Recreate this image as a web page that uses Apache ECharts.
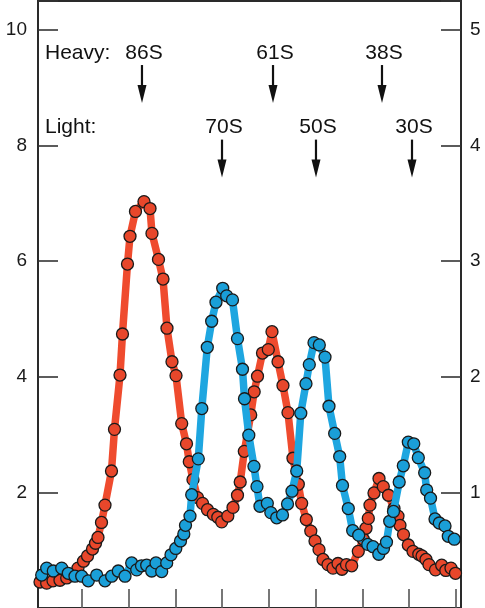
<!DOCTYPE html>
<html>
<head>
<meta charset="utf-8">
<script src="https://cdn.jsdelivr.net/npm/echarts@6/dist/echarts.min.js"></script>
<style>
html,body{margin:0;padding:0;background:#fff;}
#chart{width:485px;height:608px;}
</style>
</head>
<body>
<div id="chart"></div>
<script>
// Fraction positions and absorbance values (left axis units)
const heavyX = [1.02,2.45,3.80,5.29,6.73,8.07,9.14,10.32,11.18,12.25,12.89,13.42,14.17,14.92,16.31,16.95,18.13,18.66,19.73,20.27,21.44,23.26,24.55,24.97,26.36,27.33,28.18,29.25,30.11,31.33,32.35,32.95,33.74,34.71,35.78,36.84,38.09,39.05,39.88,41.19,42.30,43.26,43.84,44.72,46.09,46.83,47.54,48.61,49.85,50.64,51.93,52.99,54.06,55.13,56.27,56.99,57.98,58.94,59.84,60.70,61.55,62.62,63.69,64.76,65.61,66.58,67.69,69.10,70.17,70.75,71.24,71.60,72.46,73.53,74.45,75.56,76.74,77.59,78.02,78.77,79.80,80.80,82.04,82.73,83.58,84.22,85.61,86.94,87.82,88.93,89.89];
const heavyY = [0.45,0.43,0.47,0.48,0.52,0.57,0.69,0.81,0.90,1.02,1.12,1.22,1.48,1.78,2.37,3.09,4.03,4.74,5.95,6.43,6.86,7.03,6.91,6.48,6.03,5.69,4.84,4.26,4.02,3.19,2.84,2.53,2.22,1.91,1.81,1.70,1.62,1.57,1.49,1.59,1.74,1.95,2.18,2.71,3.34,3.74,4.01,4.41,4.47,4.78,4.26,3.85,3.38,2.59,2.14,1.81,1.53,1.33,1.16,1.01,0.84,0.75,0.69,0.77,0.67,0.75,0.73,0.98,1.19,1.38,1.55,1.78,1.99,2.24,2.10,1.95,1.72,1.59,1.43,1.27,1.09,0.98,0.93,0.90,0.84,0.75,0.66,0.74,0.65,0.69,0.60];

const lightX = [1.38,2.45,3.86,5.66,7.07,8.50,9.94,11.35,13.14,14.92,16.35,17.76,19.20,20.63,21.70,22.73,23.84,24.91,25.83,27.05,28.12,29.04,30.06,31.07,31.78,32.14,33.10,33.47,34.88,35.63,36.80,37.74,38.66,40.10,40.95,42.19,43.26,44.33,44.76,45.68,46.79,47.43,48.07,49.64,50.39,51.65,52.89,53.96,54.92,55.93,56.80,57.91,58.62,59.63,60.76,61.98,62.83,64.05,65.12,65.72,66.96,67.90,69.19,71.13,72.25,73.49,74.49,75.13,75.82,76.63,77.85,78.73,79.80,80.97,81.94,83.30,83.73,84.55,85.51,86.43,87.65,88.35,89.64];
const lightY = [0.57,0.69,0.64,0.69,0.60,0.55,0.55,0.47,0.57,0.47,0.55,0.64,0.55,0.78,0.66,0.73,0.74,0.64,0.78,0.63,0.78,0.92,1.03,1.16,1.28,1.43,1.59,1.96,2.58,3.45,4.51,4.96,5.29,5.53,5.40,5.33,4.66,4.13,3.62,2.99,2.45,2.10,1.76,1.81,1.65,1.56,1.61,1.80,2.02,2.37,3.37,3.88,4.21,4.59,4.55,4.34,3.49,3.02,2.62,2.12,1.72,1.34,1.26,1.10,1.06,0.93,1.03,1.14,1.50,1.67,2.18,2.46,2.87,2.84,2.60,2.34,2.04,1.90,1.54,1.47,1.42,1.24,1.19];

const leftTicks = [2, 4, 6, 8, 10];
const rightTicks = [1, 2, 3, 4, 5];
const xTickValues = [10, 20, 30, 40, 50, 60, 70, 80, 90];

const heavyPeakLabels = ['86S', '61S', '38S'];
const heavyPeakX = [22.83, 50.86, 74.17];
const lightPeakLabels = ['70S', '50S', '30S'];
const lightPeakX = [39.95, 60.05, 80.59];
const rowLabels = ['Heavy:', 'Light:'];

const FONT = '"Liberation Sans", Arial, Helvetica, sans-serif';
const ROW_Y = [9.60, 8.31];   // text rows in left-axis units
const ROW_LABEL_X = 2.09;

const annData = [];
rowLabels.forEach((t, i) => annData.push({ value: [ROW_LABEL_X, ROW_Y[i]], name: t, arrow: false, align: 'left' }));
heavyPeakLabels.forEach((t, i) => annData.push({ value: [heavyPeakX[i], ROW_Y[0]], name: t, arrow: true, align: 'center' }));
lightPeakLabels.forEach((t, i) => annData.push({ value: [lightPeakX[i], ROW_Y[1]], name: t, arrow: true, align: 'center' }));

function zip(xs, ys) { return xs.map((x, i) => [x, ys[i]]); }

const chart = echarts.init(document.getElementById('chart'), null, { renderer: 'canvas' });

const option = {
  animation: false,
  backgroundColor: '#ffffff',
  grid: { left: 38, right: 24, top: 1, bottom: -2, show: true, borderColor: '#2a2a2a', borderWidth: 2 },
  xAxis: {
    type: 'value', min: 0.59, max: 91.07,
    axisLine: { show: true, onZero: false, lineStyle: { color: '#2a2a2a', width: 2 } },
    axisTick: { show: true, inside: true, length: 19, customValues: xTickValues, lineStyle: { color: '#555', width: 1.6 } },
    axisLabel: { show: false },
    splitLine: { show: false }
  },
  yAxis: [
    {
      type: 'value', min: 0, max: 10.5, interval: 2, position: 'left',
      axisLine: { show: true, lineStyle: { color: '#2a2a2a', width: 2 } },
      axisTick: { show: true, inside: true, length: 20, lineStyle: { color: '#333', width: 1.6 } },
      axisLabel: { margin: 11, fontSize: 19, color: '#1a1a1a', fontFamily: FONT,
        formatter: v => leftTicks.includes(v) ? String(v) : '' },
      splitLine: { show: false }
    },
    {
      type: 'value', min: 0, max: 5.25, interval: 1, position: 'right',
      axisLine: { show: true, lineStyle: { color: '#2a2a2a', width: 2 } },
      axisTick: { show: true, inside: true, length: 20, lineStyle: { color: '#333', width: 1.6 } },
      axisLabel: { margin: 9, fontSize: 19, color: '#1a1a1a', fontFamily: FONT,
        formatter: v => rightTicks.includes(v) ? String(v) : '' },
      splitLine: { show: false }
    }
  ],
  series: [
    {
      name: 'Heavy', type: 'line', yAxisIndex: 0,
      data: zip(heavyX, heavyY),
      symbol: 'circle', symbolSize: 12, showSymbol: true,
      lineStyle: { color: '#ef4b2e', width: 7.5, join: 'round', cap: 'round' },
      itemStyle: { color: '#e8472b', borderColor: '#1a1a1a', borderWidth: 1.3 },
      z: 2
    },
    {
      name: 'Light', type: 'line', yAxisIndex: 0,
      data: zip(lightX, lightY),
      symbol: 'circle', symbolSize: 12, showSymbol: true,
      lineStyle: { color: '#1ea6e0', width: 7.5, join: 'round', cap: 'round' },
      itemStyle: { color: '#1a9fd8', borderColor: '#1a1a1a', borderWidth: 1.3 },
      z: 3
    },
    {
      name: 'annotations', type: 'custom', yAxisIndex: 0, clip: false, silent: true,
      data: annData,
      renderItem: function (params, api) {
        const d = annData[params.dataIndex];
        const p = api.coord([api.value(0), api.value(1)]);
        const children = [{
          type: 'text',
          style: {
            text: d.name, x: d.arrow ? p[0] + 2 : p[0], y: p[1],
            align: d.align, verticalAlign: 'middle',
            font: '21px ' + FONT, fill: '#111'
          }
        }];
        if (d.arrow) {
          children.push({
            type: 'line',
            shape: { x1: p[0], y1: p[1] + 12, x2: p[0], y2: p[1] + 36 },
            style: { stroke: '#111', lineWidth: 2.2 }
          });
          children.push({
            type: 'polygon',
            shape: { points: [[p[0] - 4.5, p[1] + 32], [p[0] + 4.5, p[1] + 32], [p[0], p[1] + 50]] },
            style: { fill: '#111' }
          });
        }
        return { type: 'group', children: children };
      },
      z: 5
    }
  ]
};
chart.setOption(option);
</script>
</body>
</html>
